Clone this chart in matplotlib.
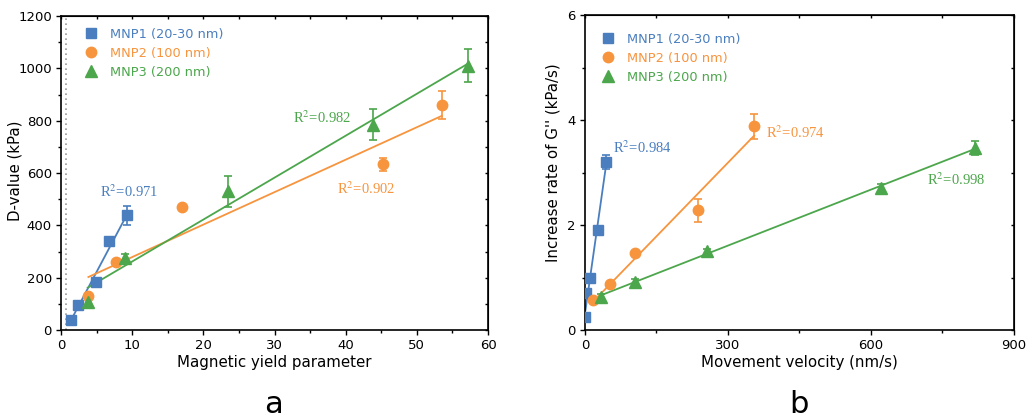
import numpy as np
import matplotlib
matplotlib.use("Agg")
import matplotlib.pyplot as plt
from matplotlib.lines import Line2D
from matplotlib.ticker import MultipleLocator

plt.rcParams["mathtext.fontset"] = "stix"

# colours of the three particle sizes
blue = "#4a7ebf"
orange = "#f7943e"
green = "#4ca64c"

labels = ["MNP1 (20-30 nm)", "MNP2 (100 nm)", "MNP3 (200 nm)"]

# panel a: D-value vs magnetic yield parameter
a_x1 = [1.4, 2.35, 4.95, 6.75, 9.3]
a_y1 = [40, 95, 183, 341, 438]
a_e1 = [0, 0, 0, 0, 37]
a_x2 = [3.85, 7.75, 17.0, 45.3, 53.5]
a_y2 = [131, 261, 469, 633, 860]
a_e2 = [0, 0, 0, 25, 54]
a_x3 = [3.75, 9.05, 23.5, 43.8, 57.2]
a_y3 = [107, 276, 530, 785, 1010]
a_e3 = [15, 15, 60, 58, 62]
a_r2 = ["0.971", "0.902", "0.982"]

# panel b: increase rate of G'' vs movement velocity
b_x1 = [1, 3, 11, 27, 44]
b_y1 = [0.25, 0.70, 1.0, 1.9, 3.2]
b_e1 = [0, 0, 0, 0, 0.13]
b_x2 = [17, 53, 104, 237, 355]
b_y2 = [0.57, 0.87, 1.47, 2.28, 3.88]
b_e2 = [0, 0, 0, 0.22, 0.24]
b_x3 = [34, 104, 255, 621, 818]
b_y3 = [0.63, 0.92, 1.50, 2.70, 3.47]
b_e3 = [0.05, 0.05, 0.05, 0.08, 0.13]
b_r2 = ["0.984", "0.974", "0.998"]

markers = [("s", 7), ("o", 7.5), ("^", 8.5)]
colors = [blue, orange, green]


def draw_series(ax, x, y, err, color, marker, ms):
    x = np.array(x, dtype=float)
    y = np.array(y, dtype=float)
    k, b = np.polyfit(x, y, 1)
    xs = np.array([x.min(), x.max()])
    ax.plot(xs, k * xs + b, color=color, lw=1.3, zorder=2)
    ax.errorbar(x, y, yerr=err, fmt=marker, color=color, ms=ms, capsize=3,
                elinewidth=1.2, capthick=1.2, zorder=3)


def style_axes(ax, xmaj, xmin, ymaj, ymin, leg_x, leg_y):
    ax.xaxis.set_major_locator(MultipleLocator(xmaj))
    ax.xaxis.set_minor_locator(MultipleLocator(xmin))
    ax.yaxis.set_major_locator(MultipleLocator(ymaj))
    ax.yaxis.set_minor_locator(MultipleLocator(ymin))
    ax.tick_params(which="both", direction="out", labelsize=9.5, width=1,
                   pad=3)
    ax.tick_params(which="major", length=3.5)
    ax.tick_params(which="minor", length=2)
    for s in ax.spines.values():
        s.set_linewidth(1.2)

    # small inward ticks on top and right, no labels
    top = ax.secondary_xaxis("top")
    top.xaxis.set_major_locator(MultipleLocator(xmaj))
    top.xaxis.set_minor_locator(MultipleLocator(xmin))
    top.tick_params(which="both", direction="in", labeltop=False, width=1,
                    length=2)
    right = ax.secondary_yaxis("right")
    right.yaxis.set_major_locator(MultipleLocator(ymaj))
    right.yaxis.set_minor_locator(MultipleLocator(ymin))
    right.tick_params(which="both", direction="in", labelright=False, width=1,
                      length=2)

    handles = [Line2D([], [], ls="none", marker=m, ms=ms, color=c)
               for (m, ms), c in zip(markers, colors)]
    ax.legend(handles, labels, loc="upper left", frameon=False, fontsize=9.3,
              handlelength=1.5, handletextpad=0.7, labelspacing=0.45,
              borderaxespad=0, borderpad=0, bbox_to_anchor=(leg_x, leg_y),
              labelcolor=colors)


fig = plt.figure(figsize=(10.27, 4.19), dpi=100)
ax1 = fig.add_axes([0.0594, 0.2124, 0.4158, 0.7494])
ax2 = fig.add_axes([0.5696, 0.2124, 0.4177, 0.7518])

for (x, y, e), c, (m, ms) in zip([(a_x1, a_y1, a_e1), (a_x2, a_y2, a_e2),
                                  (a_x3, a_y3, a_e3)], colors, markers):
    draw_series(ax1, x, y, e, c, m, ms)
ax1.axvline(0.7, color="#999999", ls=(0, (1, 2)), lw=1.2, zorder=1)
ax1.set_xlim(0, 60)
ax1.set_ylim(0, 1200)
ax1.set_xlabel("Magnetic yield parameter", fontsize=10.8, labelpad=2)
ax1.set_ylabel("D-value (kPa)", fontsize=10.8)
ax1.yaxis.set_label_coords(-0.091, 0.506)
style_axes(ax1, 10, 5, 200, 100, 0.0475, 0.962)

rfont = dict(family="Liberation Serif", fontsize=10.5, va="center")
ax1.text(5.5, 527, "R$^2$=" + a_r2[0], color=blue, **rfont)
ax1.text(38.8, 539, "R$^2$=" + a_r2[1], color=orange, **rfont)
ax1.text(32.6, 810, "R$^2$=" + a_r2[2], color=green, **rfont)

for (x, y, e), c, (m, ms) in zip([(b_x1, b_y1, b_e1), (b_x2, b_y2, b_e2),
                                  (b_x3, b_y3, b_e3)], colors, markers):
    draw_series(ax2, x, y, e, c, m, ms)
ax2.set_xlim(0, 900)
ax2.set_ylim(0, 6)
ax2.set_xlabel("Movement velocity (nm/s)", fontsize=10.8, labelpad=2)
ax2.set_ylabel("Increase rate of G'' (kPa/s)", fontsize=10.8)
ax2.yaxis.set_label_coords(-0.058, 0.53)
style_axes(ax2, 300, 150, 2, 1, 0.031, 0.943)

ax2.text(58, 3.47, "R$^2$=" + b_r2[0], color=blue, **rfont)
ax2.text(379, 3.75, "R$^2$=" + b_r2[1], color=orange, **rfont)
ax2.text(718, 2.87, "R$^2$=" + b_r2[2], color=green, **rfont)

fig.text(0.266, 0.035, "a", fontsize=22, ha="center", va="center")
fig.text(0.778, 0.035, "b", fontsize=22, ha="center", va="center")

fig.savefig("out.png", dpi=100)
